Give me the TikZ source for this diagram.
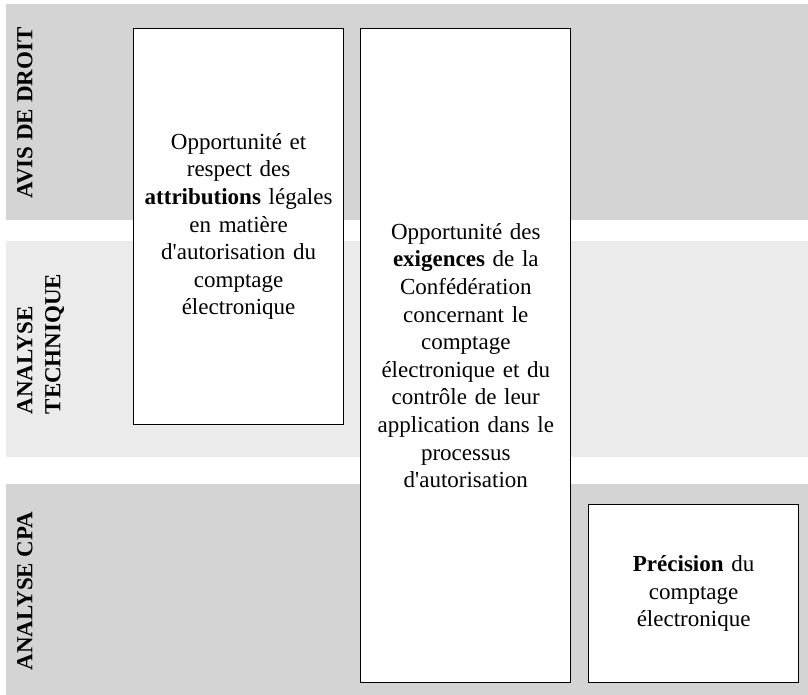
\documentclass[tikz,border=0pt]{standalone}
\usepackage{fontspec}
\setmainfont{Liberation Serif}
\usepackage{tikz}
\usetikzlibrary{positioning}
\definecolor{bandDark}{HTML}{D4D4D4}
\definecolor{bandLight}{HTML}{EBEBEB}
\newcommand{\apos}{\textquotesingle}

\begin{document}
\begin{tikzpicture}[x=1pt, y=-1pt,
  band/.style={fill=#1, draw=none, anchor=north west, minimum width=802pt,
               inner sep=0pt, outer sep=0pt},
  lane/.style={rotate=90, anchor=north, inner sep=0pt, align=left,
               font=\bfseries\fontsize{23}{28}\selectfont},
  card/.style={draw=black, line width=1.2pt, fill=white, anchor=north west,
               text width=200pt, inner sep=5pt, align=center,
               font=\fontsize{23}{27.6}\selectfont}]
  \useasboundingbox (0,0) rectangle (808,695);
  % bands
  \node[band=bandDark, minimum height=216pt] (droit) at (6,4) {};
  \node[band=bandLight, minimum height=216pt] (tech) at (6,241) {};
  \node[band=bandDark, minimum height=211pt] (cpa) at (6,484) {};
  % lane labels
  \node[lane] (ldroit) at (17,113) {AVIS DE DROIT};
  \node[lane] (ltech) at (17,344) {ANALYSE\\TECHNIQUE};
  \node[lane] (lcpa) at (17,591) {ANALYSE CPA};
  % cards
  \node[card, minimum height=396pt] (attr) at (133,28)
    {Opportunit\'e et\\ respect des\\ \textbf{attributions} l\'egales\\ en mati\`ere\\
     d\apos autorisation du\\ comptage\\ \'electronique};
  \node[card, minimum height=654pt, right=16pt of attr.north east, anchor=north west] (exig)
    {Opportunit\'e des\\ \textbf{exigences} de la\\ Conf\'ed\'eration\\ concernant le\\
     comptage\\ \'electronique et du\\ contr\^ole de leur\\ application dans le\\
     processus\\ d\apos autorisation};
  \node[card, minimum height=178pt] (prec) at (588,504)
    {\textbf{Pr\'ecision} du\\ comptage\\ \'electronique};
\end{tikzpicture}
\end{document}
